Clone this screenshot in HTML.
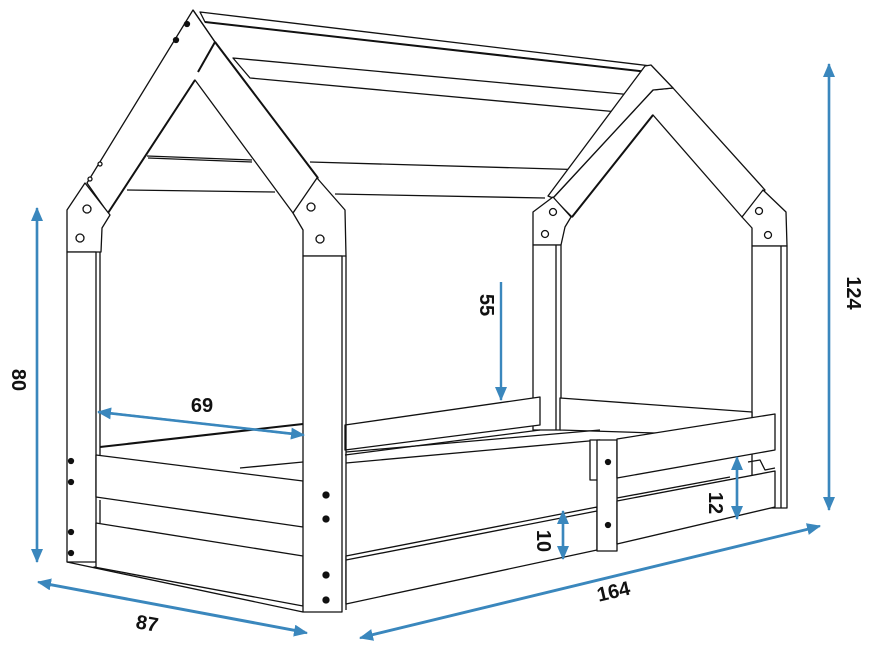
<!DOCTYPE html>
<html><head><meta charset="utf-8"><style>
html,body{margin:0;padding:0;background:#fff}
svg{display:block}
text{font-family:"Liberation Sans",sans-serif;font-weight:bold;font-size:20px;fill:#111}
</style></head><body>
<svg width="880" height="648" viewBox="0 0 880 648" xmlns="http://www.w3.org/2000/svg">
<defs>
<marker id="a" markerWidth="14" markerHeight="12" refX="13" refY="6" orient="auto" markerUnits="userSpaceOnUse" viewBox="0 0 14 12"><path d="M0,0 L14,6 L0,12 z" fill="#3a87bd"/></marker>
</defs>
<g fill="#fff" stroke="#111" stroke-width="1.3" stroke-linejoin="round">
<polygon points="200,12 651,66 648,72 205,22"/>
<line x1="205" y1="22" x2="648" y2="72" stroke-width="2"/>
<polygon points="233,58 633,95 618,112 250,78" />
<line x1="147" y1="156" x2="252" y2="160"/>
<line x1="148" y1="158" x2="252" y2="162"/>
<line x1="310" y1="162" x2="590" y2="170"/>
<line x1="127" y1="190" x2="275" y2="192"/>
<line x1="335" y1="194" x2="545" y2="198"/>
<polygon points="653,90 673,88 765,190 742,217 653,115 572,217 553,198"/>
<polygon points="651,65 673,88 653,90 553,198 548,196 645,66" />
<line x1="653" y1="115" x2="572" y2="217" stroke-width="2"/>
<polygon points="533,212 553,197 571,217 565,227 561,245 533,245"/>
<polygon points="742,217 763,190 786,212 787,246 752,246 752,228"/>
<rect x="533" y="245" width="28" height="185"/>
<line x1="556" y1="245" x2="556" y2="430"/>
<rect x="752" y="246" width="35" height="262"/>
<line x1="781" y1="246" x2="781" y2="508"/>
<circle cx="553" cy="212" r="3.5"/><circle cx="545" cy="234" r="3.5"/>
<circle cx="759" cy="211" r="3.5"/><circle cx="768" cy="235" r="3.5"/>
<polygon points="560,398 752,412 752,436 560,430"/>
<polygon points="345,425 540,397 540,425 345,450"/>
<line x1="345" y1="455" x2="540" y2="430"/>
<polygon points="215,42 318,178 293,213 195,80 108,213 87,183 193,10"/>
<line x1="195" y1="80" x2="108" y2="213" stroke-width="2"/>
<line x1="215" y1="42" x2="318" y2="178" stroke-width="2"/>
<line x1="193" y1="10" x2="215" y2="42"/>
<line x1="215" y1="42" x2="198" y2="72" stroke-width="2"/>
<polygon points="67,210 85,183 110,215 102,228 101,252 67,252"/>
<polygon points="293,213 317,178 345,210 346,256 303,256 303,230"/>
<circle cx="187" cy="24" r="2.5" fill="#111"/><circle cx="176" cy="40" r="2.5" fill="#111"/>
<circle cx="100" cy="164" r="2"/><circle cx="90" cy="179" r="2"/>
<circle cx="87" cy="209" r="4"/><circle cx="80" cy="238" r="4"/>
<circle cx="311" cy="207" r="4"/><circle cx="320" cy="239" r="4"/>
<rect x="67" y="252" width="29" height="310"/>
<line x1="100" y1="252" x2="100" y2="455"/>
<line x1="100" y1="447" x2="303" y2="424" stroke-width="2"/>
<polygon points="96,455 303,481 303,527 96,497"/>
<polygon points="96,523 303,556 303,606 94,567 96,567"/>
<line x1="67" y1="562" x2="303" y2="612"/>
<line x1="240" y1="468" x2="303" y2="462"/>
<line x1="100" y1="500" x2="100" y2="523"/>
<rect x="303" y="256" width="39" height="356"/>
<line x1="346" y1="256" x2="346" y2="610"/>
<circle cx="326" cy="495" r="3" fill="#111"/><circle cx="326" cy="519" r="3" fill="#111"/>
<circle cx="326" cy="575" r="3" fill="#111"/><circle cx="326" cy="600" r="3" fill="#111"/>
<circle cx="71" cy="461" r="2.5" fill="#111"/><circle cx="71" cy="482" r="2.5" fill="#111"/>
<circle cx="71" cy="532" r="2.5" fill="#111"/><circle cx="71" cy="553" r="2.5" fill="#111"/>
<line x1="346" y1="452" x2="600" y2="430"/>
<line x1="346" y1="463" x2="600" y2="440"/>
<polygon points="346,556 597,507 597,550 346,604"/>
<line x1="346" y1="560" x2="597" y2="511"/>
<rect x="590" y="440" width="10" height="40"/>
<rect x="597" y="440" width="20" height="111"/>
<circle cx="608" cy="462" r="2.5" fill="#111"/><circle cx="608" cy="525" r="2.5" fill="#111"/>
<polygon points="617,439 775,414 775,450 617,478"/>
<polygon points="617,501 775,471 775,507 617,544"/>
<line x1="617" y1="498" x2="730" y2="477"/>
<path d="M748,462 L760,460 L765,470 L775,468" fill="none"/>
</g>
<g stroke="#3a87bd" stroke-width="2.4" fill="none">
<line x1="37" y1="560" x2="37" y2="208" marker-end="url(#a)"/>
<line x1="37" y1="212" x2="37" y2="562" marker-end="url(#a)"/>
<line x1="305" y1="632" x2="38" y2="582" marker-end="url(#a)"/>
<line x1="40" y1="583" x2="307" y2="633" marker-end="url(#a)"/>
<line x1="818" y1="527" x2="360" y2="638" marker-end="url(#a)"/>
<line x1="362" y1="637" x2="820" y2="526" marker-end="url(#a)"/>
<line x1="829" y1="508" x2="829" y2="64" marker-end="url(#a)"/>
<line x1="829" y1="66" x2="829" y2="510" marker-end="url(#a)"/>
<line x1="501" y1="282" x2="501" y2="400" marker-end="url(#a)"/>
<line x1="302" y1="435" x2="98" y2="412" marker-end="url(#a)"/>
<line x1="100" y1="412" x2="304" y2="435" marker-end="url(#a)"/>
<line x1="563" y1="557" x2="563" y2="511" marker-end="url(#a)"/>
<line x1="563" y1="513" x2="563" y2="559" marker-end="url(#a)"/>
<line x1="737" y1="517" x2="737" y2="457" marker-end="url(#a)"/>
<line x1="737" y1="459" x2="737" y2="519" marker-end="url(#a)"/>
</g>
<text x="202" y="412" text-anchor="middle">69</text>
<text x="146" y="630" text-anchor="middle" transform="rotate(10 146 630)">87</text>
<text x="615" y="598" text-anchor="middle" transform="rotate(-13 615 598)">164</text>
<text transform="translate(12,380) rotate(90)" text-anchor="middle">80</text>
<text transform="translate(847,293) rotate(90)" text-anchor="middle">124</text>
<text transform="translate(480,305) rotate(90)" text-anchor="middle">55</text>
<text transform="translate(537,541) rotate(90)" text-anchor="middle">10</text>
<text transform="translate(709,503) rotate(90)" text-anchor="middle">12</text>
</svg>
</body></html>
